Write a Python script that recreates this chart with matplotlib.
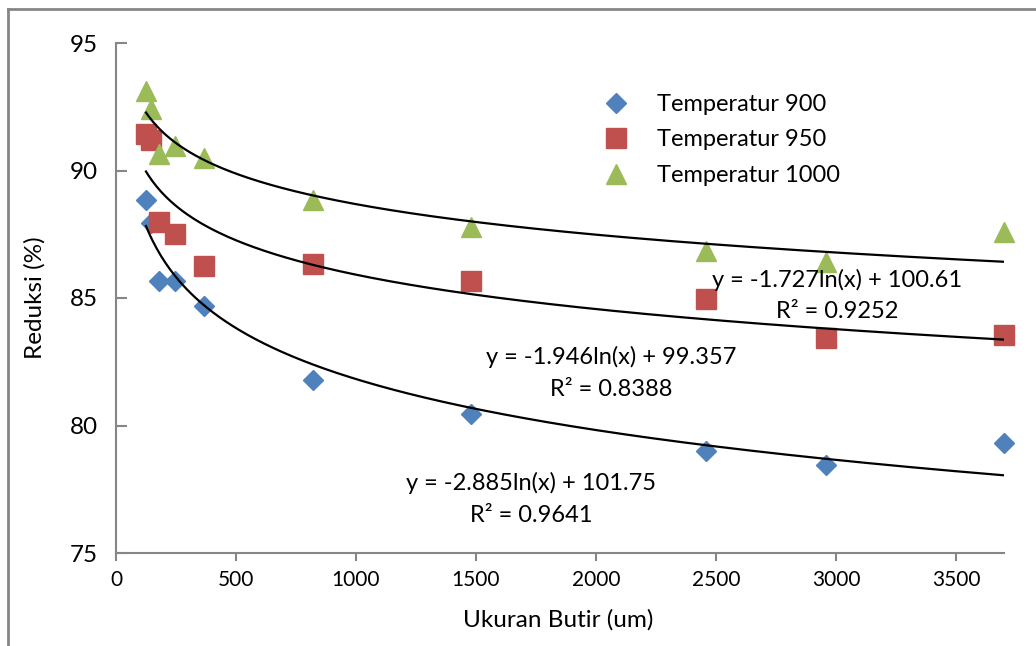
import numpy as np
import matplotlib.pyplot as plt
from matplotlib.lines import Line2D

plt.rcParams['font.family'] = ['Lato', 'DejaVu Sans']

# grain size (um)
ukuran = [125, 145, 180, 245, 365, 820, 1480, 2460, 2960, 3700]

# reduction (%) per temperature
red_900 = [88.85, 87.95, 85.65, 85.65, 84.7, 81.8, 80.45, 79.0, 78.45, 79.3]
red_950 = [91.45, 91.2, 88.0, 87.5, 86.25, 86.35, 85.65, 84.95, 83.45, 83.55]
red_1000 = [93.1, 92.4, 90.65, 90.95, 90.5, 88.85, 87.8, 86.85, 86.4, 87.6]

labels = ['Temperatur 900', 'Temperatur 950', 'Temperatur 1000']

# log trendline coefficients as printed on the chart: y = a ln(x) + b
trend_a = [-2.885, -1.946, -1.727]
trend_b = [101.75, 99.357, 100.61]
trend_r2 = ['0.9641', '0.8388', '0.9252']

fig = plt.figure(figsize=(10.36, 6.46), dpi=100)
ax = fig.add_axes([116 / 1036, 1 - 553 / 646, 888 / 1036, 510 / 646])

ax.plot(ukuran, red_900, ls='none', marker='D', ms=10.5, color='#4F81BD',
        label=labels[0], clip_on=False, zorder=3)
ax.plot(ukuran, red_950, ls='none', marker='s', ms=14, color='#C0504D',
        label=labels[1], clip_on=False, zorder=3)
ax.plot(ukuran, red_1000, ls='none', marker='^', ms=15, color='#9BBB59',
        label=labels[2], clip_on=False, zorder=3)

xs = np.linspace(min(ukuran), max(ukuran), 400)
for a, b in zip(trend_a, trend_b):
    ax.plot(xs, a * np.log(xs) + b, color='black', lw=1.6, zorder=4)

# trendline equations
eq_pos = [(531, 483), (611, 357), (837, 280)]
for (px, py), a, b, r2 in zip(eq_pos, trend_a, trend_b, trend_r2):
    fig.text(px / 1036, 1 - py / 646, f'y = {a}ln(x) + {b}', ha='center',
             va='center', fontsize=17, zorder=5)
    fig.text(px / 1036, 1 - (py + 32) / 646, f'R² = {r2}', ha='center',
             va='center', fontsize=17, zorder=5)

ax.set_xlim(0, 3700)
ax.set_ylim(75, 95)
ax.set_xticks(np.arange(0, 3501, 500))
ax.set_yticks(np.arange(75, 96, 5))

for s in ['top', 'right']:
    ax.spines[s].set_visible(False)
for s in ['left', 'bottom']:
    ax.spines[s].set_color('#868686')
    ax.spines[s].set_linewidth(1.5)

ax.tick_params(axis='x', direction='out', length=6, width=1.5,
               color='#868686', labelsize=15, pad=6)
ax.tick_params(axis='y', direction='in', length=8, width=1.5,
               color='#868686', labelsize=17.5, pad=13)

fig.text(558 / 1036, 1 - 620 / 646, 'Ukuran Butir (um)', ha='center',
         va='center', fontsize=17.5)
fig.text(35 / 1036, 1 - 298 / 646, 'Reduksi (%)', ha='center', va='center',
         rotation=90, fontsize=17.5)

ax.legend(loc='upper left', bbox_to_anchor=(581 / 1036, 1 - 82 / 646),
          bbox_transform=fig.transFigure, frameon=False, fontsize=17,
          handletextpad=0.7, labelspacing=0.62, borderpad=0)

# chart border (cropped at right/bottom)
fig.add_artist(Line2D([8 / 1036, 8 / 1036], [0, 1 - 8.5 / 646],
                      color='#868686', lw=2, transform=fig.transFigure))
fig.add_artist(Line2D([8 / 1036, 1], [1 - 8.5 / 646, 1 - 8.5 / 646],
                      color='#868686', lw=2, transform=fig.transFigure))

fig.savefig('out.png', dpi=100)
